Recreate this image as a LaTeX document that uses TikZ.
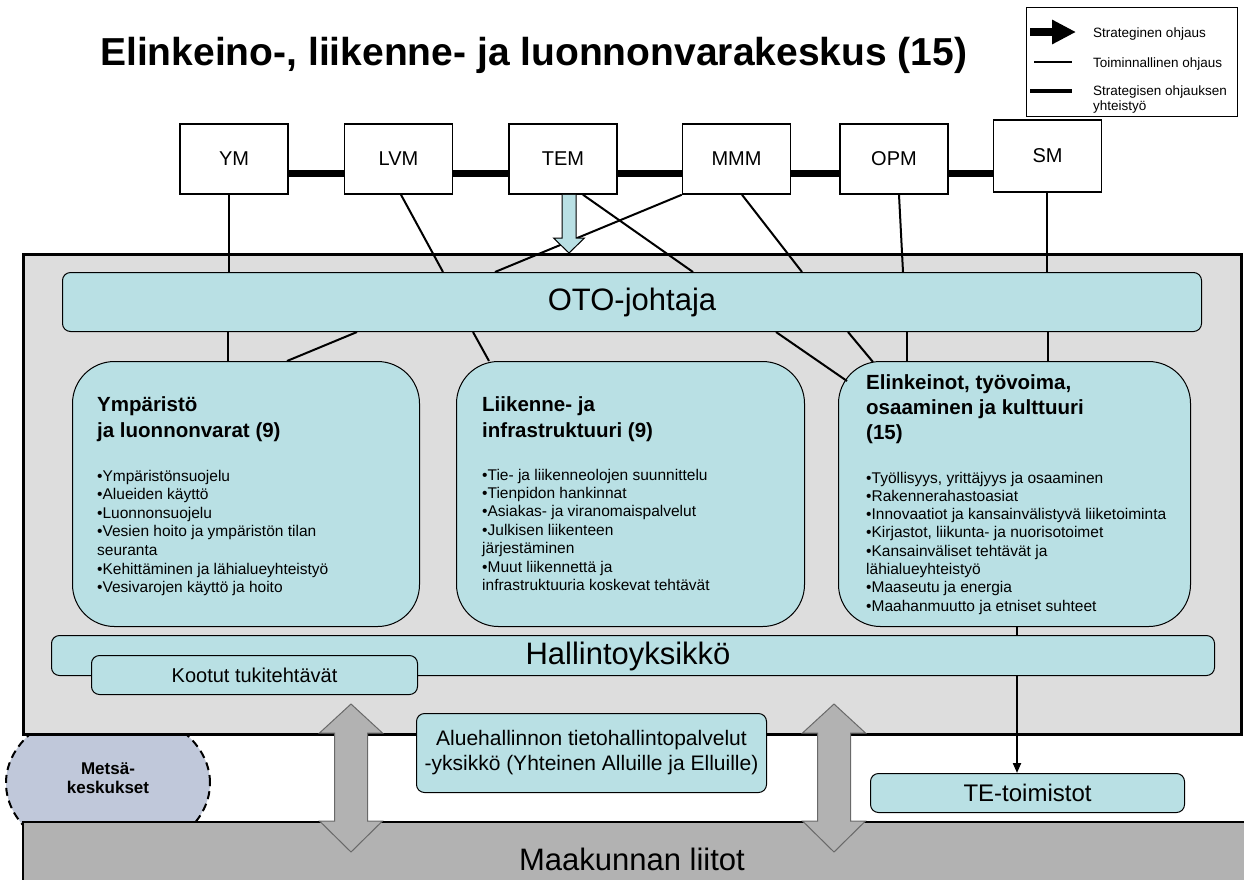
\documentclass[tikz,border=0pt]{standalone}
\usepackage{fontspec}
\setmainfont{Liberation Sans}
\usetikzlibrary{shapes.geometric,arrows.meta,calc}
\definecolor{lblue}{RGB}{185,224,228}
\definecolor{boxgray}{RGB}{221,221,221}
\definecolor{liitot}{RGB}{178,178,178}
\definecolor{metsafill}{RGB}{192,200,218}
\definecolor{arrowedge}{RGB}{105,105,105}
\begin{document}
\begin{tikzpicture}[x=1pt,y=-1pt,
  ministry/.style={draw=black, line width=1.5pt, fill=white, minimum width=108pt, minimum height=70pt, inner sep=0pt, font=\fontsize{20}{24}\selectfont},
  coop/.style={line width=7pt},
  ctrl/.style={line width=2pt},
  bluebox/.style={draw=black, line width=1pt, fill=lblue, rounded corners=8pt, inner sep=0pt, anchor=north west},
  unitbox/.style={draw=black, line width=1pt, fill=lblue, rounded corners=42pt, inner sep=0pt, anchor=north west},
  utitle/.style={font=\bfseries\fontsize{20.5}{26}\selectfont, anchor=base west, inner sep=0pt},
  ubullet/.style={font=\fontsize{15.5}{18.5}\selectfont, anchor=base west, inner sep=0pt},
  bigtext/.style={font=\fontsize{31}{36}\selectfont},
  dblarrow/.style={draw=arrowedge, line width=1pt, fill=liitot},
  legtext/.style={font=\fontsize{13.5}{16}\selectfont, anchor=base west, inner sep=0pt},
  metsatext/.style={font=\bfseries\fontsize{17}{20}\selectfont, anchor=base, inner sep=0pt},
]
\useasboundingbox (0,0) rectangle (1244,879);
\fill[white] (0,0) rectangle (1244,879);

% Metsakeskukset (behind)
\node[ellipse, draw=black, line width=2pt, dash pattern=on 8pt off 5pt, fill=metsafill,
  minimum width=204pt, minimum height=152pt, inner sep=0pt] (metsa) at (108,783) {};

% main grey box
\node[draw=black, line width=3pt, fill=boxgray, minimum width=1218pt, minimum height=480pt,
  anchor=north west, inner sep=0pt] (main) at (22,253) {};

% Maakunnan liitot
\node[draw=black, line width=2pt, fill=liitot, minimum width=1240pt, minimum height=80pt,
  anchor=north west, inner sep=0pt] (liitot) at (22,821) {};
\node[bigtext, anchor=base, inner sep=0pt] (liitottext) at (632,870) {Maakunnan liitot};

% ministries
\node[ministry] (ym) at (234,159) {YM};
\node[ministry] (lvm) at (398.5,159) {LVM};
\node[ministry] (tem) at (563,159) {TEM};
\node[ministry] (mmm) at (736.5,159) {MMM};
\node[ministry] (opm) at (894,159) {OPM};
\node[ministry, minimum height=72pt] (sm) at (1047.5,156) {SM};
\foreach \a/\b in {ym/lvm, lvm/tem, tem/mmm, mmm/opm, opm/sm}
  \draw[coop] (\a.east |- 0,173) -- (\b.west |- 0,173);

% OTO and units
\node[bluebox, minimum width=1139pt, minimum height=59pt, bigtext] (oto) at (62,272) {OTO-johtaja};
\node[unitbox, minimum width=347pt, minimum height=265pt] (ymp) at (72,361) {};
\node[unitbox, minimum width=348pt, minimum height=265pt] (liik) at (456,361) {};
\node[unitbox, minimum width=352pt, minimum height=265pt] (elink) at (838,361) {};

% unit texts
\node[utitle] (ympt1) at (97,411) {Ympäristö};
\node[utitle] (ympt2) at (97,437) {ja luonnonvarat (9)};
\foreach [count=\i] \t in {{•Ympäristönsuojelu},{•Alueiden käyttö},{•Luonnonsuojelu},{•Vesien hoito ja ympäristön tilan},{seuranta},{•Kehittäminen ja lähialueyhteistyö},{•Vesivarojen käyttö ja hoito}}
  \node[ubullet] (ympb\i) at (97,{481+18.6*(\i-1)}) {\t};

\node[utitle] (liikt1) at (482,411) {Liikenne- ja};
\node[utitle] (liikt2) at (482,437) {infrastruktuuri (9)};
\foreach [count=\i] \t in {{•Tie- ja liikenneolojen suunnittelu},{•Tienpidon hankinnat},{•Asiakas- ja viranomaispalvelut},{•Julkisen liikenteen},{järjestäminen},{•Muut liikennettä ja},{infrastruktuuria koskevat tehtävät}}
  \node[ubullet] (liikb\i) at (482,{480+18.4*(\i-1)}) {\t};

\node[utitle] (elt1) at (866,389) {Elinkeinot, työvoima,};
\node[utitle] (elt2) at (866,414) {osaaminen ja kulttuuri};
\node[utitle] (elt3) at (866,439) {(15)};
\foreach [count=\i] \t in {{•Työllisyys, yrittäjyys ja osaaminen},{•Rakennerahastoasiat},{•Innovaatiot ja kansainvälistyvä liiketoiminta},{•Kirjastot, liikunta- ja nuorisotoimet},{•Kansainväliset tehtävät ja},{lähialueyhteistyö},{•Maaseutu ja energia},{•Maahanmuutto ja etniset suhteet}}
  \node[ubullet] (elb\i) at (866,{483+18.3*(\i-1)}) {\t};

% boxes below main
\node[bluebox, minimum width=314pt, minimum height=39pt, font=\fontsize{24}{28}\selectfont] (te) at (870,773) {TE-toimistot};
\node[bluebox, minimum width=350pt, minimum height=79pt, align=center, font=\fontsize{21}{25}\selectfont] (alue) at (416,713) {Aluehallinnon tietohallintopalvelut\\-yksikkö (Yhteinen Alluille ja Elluille)};

% ministry -> OTO lines
\draw[ctrl] (229,0 |- ym.south) -- (229,0 |- oto.north);
\draw[ctrl] (401,0 |- lvm.south) -- (443,0 |- oto.north);
\draw[ctrl] (583,0 |- tem.south) -- (693,0 |- oto.north);
\draw[ctrl] (mmm.south west) -- (495,0 |- oto.north);
\draw[ctrl] (742,0 |- mmm.south) -- (802,0 |- oto.north);
\draw[ctrl] (899,0 |- opm.south) -- (903,0 |- oto.north);
\draw[ctrl] (1047,0 |- sm.south) -- (1047,0 |- oto.north);

% OTO -> units lines
\coordinate (elinkA) at (847,381);
\coordinate (elinkB) at (873,362);
\draw[ctrl] (228,0 |- oto.south) -- (228,0 |- ymp.north);
\draw[ctrl] (357,0 |- oto.south) -- (287,0 |- ymp.north);
\draw[ctrl] (473,0 |- oto.south) -- (489,0 |- liik.north);
\draw[ctrl] (776,0 |- oto.south) -- (elinkA);
\draw[ctrl] (848,0 |- oto.south) -- (elinkB);
\draw[ctrl] (907,0 |- oto.south) -- (907,0 |- elink.north);
\draw[ctrl] (1048,0 |- oto.south) -- (1048,0 |- elink.north);

% TEM strategic arrow
\coordinate (ta) at (569,0 |- tem.south);
\coordinate (tb) at (569,0 |- main.north);
\draw[fill=lblue, line width=1pt, line join=miter]
  ($(ta)+(-7,0)$) -- ($(tb)+(-7,-15)$) -- ($(tb)+(-15.5,-15)$) -- (tb) --
  ($(tb)+(15.5,-15)$) -- ($(tb)+(7,-15)$) -- ($(ta)+(7,0)$);

% Elinkeinot -> TE-toimistot
\draw[line width=2pt, -{Triangle[length=10pt,width=8pt]}] (1017,0 |- elink.south) -- (1017,0 |- te.north);

% Hallintoyksikko and Kootut
\node[bluebox, minimum width=1163pt, minimum height=40pt] (hallinto) at (51,635) {};
\node[bigtext, anchor=center, inner sep=0pt] (hallintotext) at (628,656) {Hallintoyksikkö};
\node[bluebox, minimum width=326pt, minimum height=39pt, font=\fontsize{20}{24}\selectfont] (kootut) at (91,655) {Kootut tukitehtävät};

% double arrows between main box and Maakunnan liitot
\foreach \c in {351,834}
  \draw[dblarrow]
    ({\c-16.5},733) -- ({\c-31.5},733) -- (\c,704) -- ({\c+31.5},733) -- ({\c+16.5},733) --
    ({\c+16.5},821) -- ({\c+31.5},821) -- (\c,852) -- ({\c-31.5},821) -- ({\c-16.5},821) -- cycle;

% Metsakeskukset text
\node[metsatext] (metsat1) at (108,774) {Metsä-};
\node[metsatext] (metsat2) at (108,793) {keskukset};

% title
\node[font=\bfseries\fontsize{39}{44}\selectfont, anchor=base west, inner sep=0pt] (title) at (100,65) {Elinkeino-, liikenne- ja luonnonvarakeskus (15)};

% legend
\node[draw=black, line width=1pt, fill=white, minimum width=211pt, minimum height=109pt, anchor=north west, inner sep=0pt] (legend) at (1026,7) {};
\coordinate (lega) at (1030,32);
\coordinate (legb) at (1076,32);
\draw[line width=8pt, -{Triangle[length=24pt,width=23pt]}] (lega) -- (legb);
\coordinate (legc) at (1034,62);
\coordinate (legd) at (1072,62);
\draw[line width=1.3pt] (legc) -- (legd);
\coordinate (lege) at (1030,91);
\coordinate (legf) at (1072,91);
\draw[line width=4.5pt] (lege) -- (legf);
\node[legtext] (leg1) at (1093,37) {Strateginen ohjaus};
\node[legtext] (leg2) at (1093,67) {Toiminnallinen ohjaus};
\node[legtext] (leg3) at (1093,95) {Strategisen ohjauksen};
\node[legtext] (leg4) at (1093,110) {yhteistyö};
\end{tikzpicture}
\end{document}
